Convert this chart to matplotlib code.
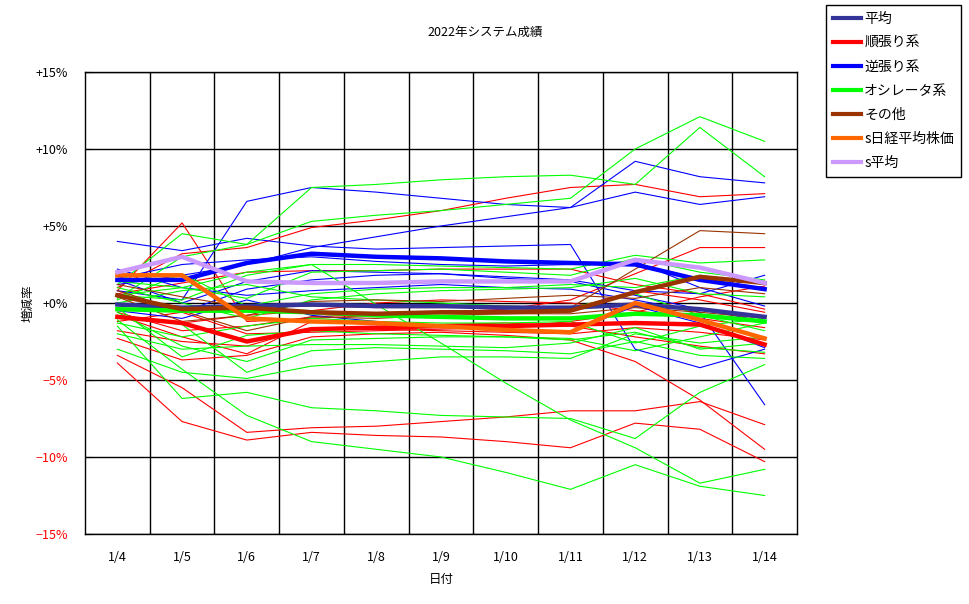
import matplotlib
matplotlib.use("Agg")
import matplotlib.pyplot as plt
from matplotlib.lines import Line2D

plt.rcParams['font.family'] = ['Noto Sans CJK JP', 'DejaVu Sans']

dates = ["1/4", "1/5", "1/6", "1/7", "1/8", "1/9", "1/10", "1/11", "1/12", "1/13", "1/14"]

# thin lines: individual systems (%)
trend_systems = [
    [-3.4, -5.5, -8.4, -8.1, -8.0, -7.7, -7.4, -7.0, -7.0, -6.4, -7.9],
    [-3.9, -7.7, -8.9, -8.4, -8.6, -8.7, -9.0, -9.4, -7.8, -8.2, -10.3],
    [1.0, 3.2, 3.6, 4.9, 5.4, 6.0, 6.8, 7.5, 7.7, 6.9, 7.1],
    [0.8, 5.2, -1.2, -1.0, -0.8, -0.6, -0.5, -0.4, 0.8, 0.2, -0.6],
    [0.6, 1.3, 2.0, 2.1, 2.1, 2.2, 2.2, 2.2, 1.2, 0.6, -0.4],
    [-0.6, -1.8, -1.5, -0.9, -0.7, -0.6, -0.4, 0.2, 1.9, 3.6, 3.6],
    [-2.3, -3.7, -3.4, -2.2, -2.0, -1.9, -2.1, -2.4, -3.8, -6.3, -9.5],
    [-1.8, -2.5, -2.8, -1.6, -1.7, -1.8, -1.9, -2.0, -1.6, -1.9, -2.4],
    [-1.0, -1.3, -0.8, -0.5, 0.0, 0.2, 0.1, 0.0, -0.5, -1.0, -1.6],
    [-0.8, -2.2, -3.3, -1.2, -1.4, -1.4, -1.3, -1.5, -2.2, -2.8, -3.3],
    [-1.2, -0.6, -2.0, -1.9, -1.8, -1.7, -1.6, -1.2, -0.6, 0.4, 1.1],
]
contrarian_systems = [
    [4.0, 3.4, 4.2, 3.7, 3.5, 3.6, 3.7, 3.8, -3.0, -4.2, -3.0],
    [0.8, 0.2, 6.6, 7.5, 7.2, 6.8, 6.4, 6.2, 9.2, 8.2, 7.8],
    [1.2, 1.8, 2.5, 3.6, 4.3, 5.0, 5.6, 6.2, 7.2, 6.4, 6.9],
    [2.2, 1.0, 0.5, 0.8, 1.0, 1.2, 1.0, 0.9, 0.2, -0.6, -6.6],
    [1.6, 2.5, 2.8, 3.0, 2.7, 2.5, 2.4, 2.5, 2.7, 1.0, -0.2],
    [0.0, -0.6, 0.9, 1.5, 1.8, 1.9, 1.7, 1.5, 0.8, 0.6, 1.8],
    [1.5, 0.0, 1.4, 2.1, 2.0, 1.9, 1.6, 1.4, 0.5, -0.4, -1.2],
    [-0.5, -1.0, 0.2, -0.8, -1.2, -1.5, -1.7, -1.9, -0.2, -1.3, -2.9],
]
oscillator_systems = [
    [0.3, 3.0, 3.8, 7.5, 7.7, 8.0, 8.2, 8.3, 7.7, 11.4, 8.2],
    [1.2, 4.5, 3.8, 5.3, 5.7, 6.0, 6.4, 6.8, 10.0, 12.1, 10.5],
    [-3.0, -4.5, -4.9, -4.1, -3.8, -3.5, -3.5, -3.6, -2.0, -2.6, -2.2],
    [-1.1, -4.3, -7.3, -9.0, -9.5, -10.0, -11.0, -12.1, -10.5, -11.9, -12.5],
    [-1.5, -6.2, -5.8, -6.8, -7.0, -7.3, -7.4, -7.5, -8.8, -5.8, -4.0],
    [0.5, 1.0, 2.0, 2.5, -0.1, -2.6, -5.2, -7.6, -9.4, -11.7, -10.8],
    [-2.0, -3.0, -2.8, -2.7, -2.7, -2.8, -2.9, -2.6, -1.6, -3.0, -2.6],
    [0.5, 0.2, 1.8, 2.5, 2.5, 2.4, 2.3, 2.2, 3.1, 2.6, 2.8],
    [1.0, 0.0, -1.0, 0.2, 0.6, 0.8, 0.9, 1.0, 1.6, 0.6, 0.4],
    [-1.3, -2.2, -1.5, -1.0, -1.2, -1.3, -1.3, -1.2, -2.6, -1.5, -1.0],
    [0.2, 1.9, -0.2, 0.6, 0.9, 1.0, 1.0, 1.2, 1.0, 1.8, 1.2],
    [-0.8, -1.4, -4.5, -3.1, -2.9, -3.0, -3.1, -3.3, -2.5, -3.4, -3.6],
    [-0.3, -3.5, -2.1, -1.8, -2.0, -2.1, -2.2, -2.4, -1.9, -2.9, -3.2],
    [1.4, 1.0, 0.3, 2.0, 2.1, 2.2, 2.0, 1.8, 2.9, 2.0, 1.5],
    [0.0, 0.8, 1.2, 0.4, 0.2, 0.0, -0.2, -0.3, 0.6, -0.8, -1.8],
    [-0.6, -2.8, -3.8, -2.4, -2.3, -2.2, -2.2, -2.3, -3.1, -2.2, -1.3],
]
other_systems = [
    [1.2, 0.4, -0.3, -0.2, -0.3, -0.3, -0.2, -0.3, 2.2, 4.7, 4.5],
    [0.4, -1.2, -0.8, 0.1, 0.2, 0.1, 0.3, 0.5, 0.3, 1.0, 0.6],
    [0.8, -0.5, -1.8, -0.9, -1.0, -0.8, -0.7, -0.7, -0.3, -0.6, -1.0],
]

# thick lines: group averages (%)
avg_all = [-0.1, -0.3, -0.2, -0.1, -0.2, -0.2, -0.3, -0.3, -0.1, -0.4, -0.9]
avg_trend = [-0.9, -1.3, -2.5, -1.7, -1.6, -1.5, -1.5, -1.4, -1.3, -1.4, -2.7]
avg_contrarian = [1.5, 1.5, 2.6, 3.2, 3.0, 2.9, 2.7, 2.6, 2.5, 1.5, 0.9]
avg_oscillator = [-0.4, -0.5, -0.5, -0.6, -0.8, -0.9, -1.0, -1.0, -0.7, -0.8, -1.2]
avg_other = [0.5, -0.4, -0.3, -0.6, -0.7, -0.6, -0.6, -0.5, 0.7, 1.7, 1.3]
nikkei = [1.8, 1.8, -1.0, -1.2, -1.3, -1.5, -1.75, -1.9, 0.0, -1.1, -2.3]
s_avg = [2.0, 3.0, 1.4, 1.3, 1.3, 1.4, 1.4, 1.4, 2.8, 2.3, 1.3]

C_AVG = "#333399"
C_TREND = "#FF0000"
C_CONTRA = "#0000FF"
C_OSC = "#00FF00"
C_OTHER = "#993300"
C_NIKKEI = "#FF6600"
C_SAVG = "#CC99FF"

fig = plt.figure(figsize=(9.7, 6.04), dpi=100)
ax = fig.add_axes([85 / 970, 70 / 604, 712 / 970, 462 / 604])
x = list(range(len(dates)))

for group, col in [(trend_systems, C_TREND), (contrarian_systems, C_CONTRA),
                   (oscillator_systems, C_OSC), (other_systems, C_OTHER)]:
    for vals in group:
        ax.plot(x, vals, color=col, lw=0.8, zorder=2)

thick = [
    (avg_all, C_AVG, "平均"),
    (avg_trend, C_TREND, "順張り系"),
    (avg_contrarian, C_CONTRA, "逆張り系"),
    (avg_oscillator, C_OSC, "オシレータ系"),
    (avg_other, C_OTHER, "その他"),
    (nikkei, C_NIKKEI, "s日経平均株価"),
    (s_avg, C_SAVG, "s平均"),
]
for vals, col, name in thick:
    ax.plot(x, vals, color=col, lw=3.2, zorder=3)

ax.set_xlim(-0.5, len(dates) - 0.5)
ax.set_ylim(-15, 15)
ax.set_xticks(x)
ax.set_xticklabels(dates, fontsize=9)
ax.set_xticks([i + 0.5 for i in range(len(dates) - 1)], minor=True)
ax.tick_params(axis='x', which='both', length=0, pad=12)
ax.grid(True, axis='x', which='minor', color='black', lw=1)

yt = [15, 10, 5, 0, -5, -10, -15]
ax.set_yticks(yt)
ylabels = ["+15%", "+10%", "+5%", "+0%", "\u22125%", "\u221210%", "\u221215%"]
ax.set_yticklabels(ylabels, fontsize=9)
for lab, v in zip(ax.get_yticklabels(), yt):
    if v < 0:
        lab.set_color("red")
ax.tick_params(axis='y', length=5, direction='in', pad=12)
ax.grid(True, axis='y', which='major', color='black', lw=1)
ax.set_axisbelow(True)
for s in ax.spines.values():
    s.set_color('black')
    s.set_linewidth(1)

ax.set_xlabel("日付", fontsize=9, labelpad=7)
fig.text(28 / 970, 1 - 303 / 604, "増減率", rotation=90, fontsize=9,
         ha='center', va='center')
fig.suptitle("2022年システム成績", fontsize=9, x=0.5, y=0.958)

handles = [Line2D([0], [0], color=col, lw=3) for _, col, _ in thick]
names = [name for _, _, name in thick]
leg = fig.legend(handles, names, loc='upper left', bbox_to_anchor=(826 / 970, 1 - 5 / 604),
                 fontsize=10, fancybox=False, edgecolor='black', framealpha=1,
                 handlelength=2.0, handletextpad=0.25, borderpad=0.5, labelspacing=0.72,
                 borderaxespad=0)
leg.get_frame().set_linewidth(1)

fig.savefig("out.png", dpi=100)
